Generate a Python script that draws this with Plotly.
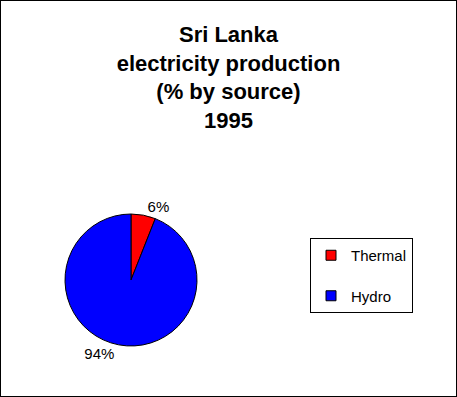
import plotly.graph_objects as go

categories = ["Thermal", "Hydro"]
shares = [6, 94]
colors = ["#FF0000", "#0000FF"]
title_lines = ["Sri Lanka", "electricity production", "(% by source)", "1995"]

W, H = 457, 397
cx, cy, r = 131, 280, 66

fig = go.Figure()
fig.add_trace(go.Pie(
    labels=categories, values=shares, sort=False, direction="clockwise", rotation=0,
    marker=dict(colors=colors, line=dict(color="black", width=1)),
    textinfo="percent", textposition="outside",
    textfont=dict(family="Liberation Sans, Arial", size=15, color="black"),
    domain=dict(x=[(cx - r) / W, (cx + r) / W], y=[(H - cy - r) / H, (H - cy + r) / H]),
    showlegend=False, hoverinfo="label+percent",
))
for cat, col in zip(categories, colors):
    fig.add_trace(go.Scatter(
        x=[None], y=[None], mode="markers", name=cat, legendgroup=cat,
        marker=dict(symbol="square", size=10, color=col, line=dict(color="black", width=1)),
    ))

fig.update_layout(
    width=W, height=H, margin=dict(l=0, r=0, t=0, b=0),
    paper_bgcolor="white", plot_bgcolor="white",
    xaxis=dict(visible=False), yaxis=dict(visible=False),
    title=dict(text="<br>".join(title_lines), x=0.5, xanchor="center",
               y=1 - 42 / H, yanchor="top", yref="container",
               font=dict(family="Liberation Sans, Arial", size=22, color="black", weight="bold")),
    legend=dict(x=310 / W, y=1 - 238 / H, xanchor="left", yanchor="top",
                bordercolor="black", borderwidth=1, bgcolor="white",
                font=dict(family="Liberation Sans, Arial", size=15, color="black"),
                tracegroupgap=18, itemwidth=30),
    shapes=[dict(type="rect", xref="paper", yref="paper", x0=0, y0=0, x1=1, y1=1,
                 line=dict(color="black", width=2))],
)
fig.write_html("out.html", config={"displayModeBar": False},
               post_script="document.body.style.margin='0';")
